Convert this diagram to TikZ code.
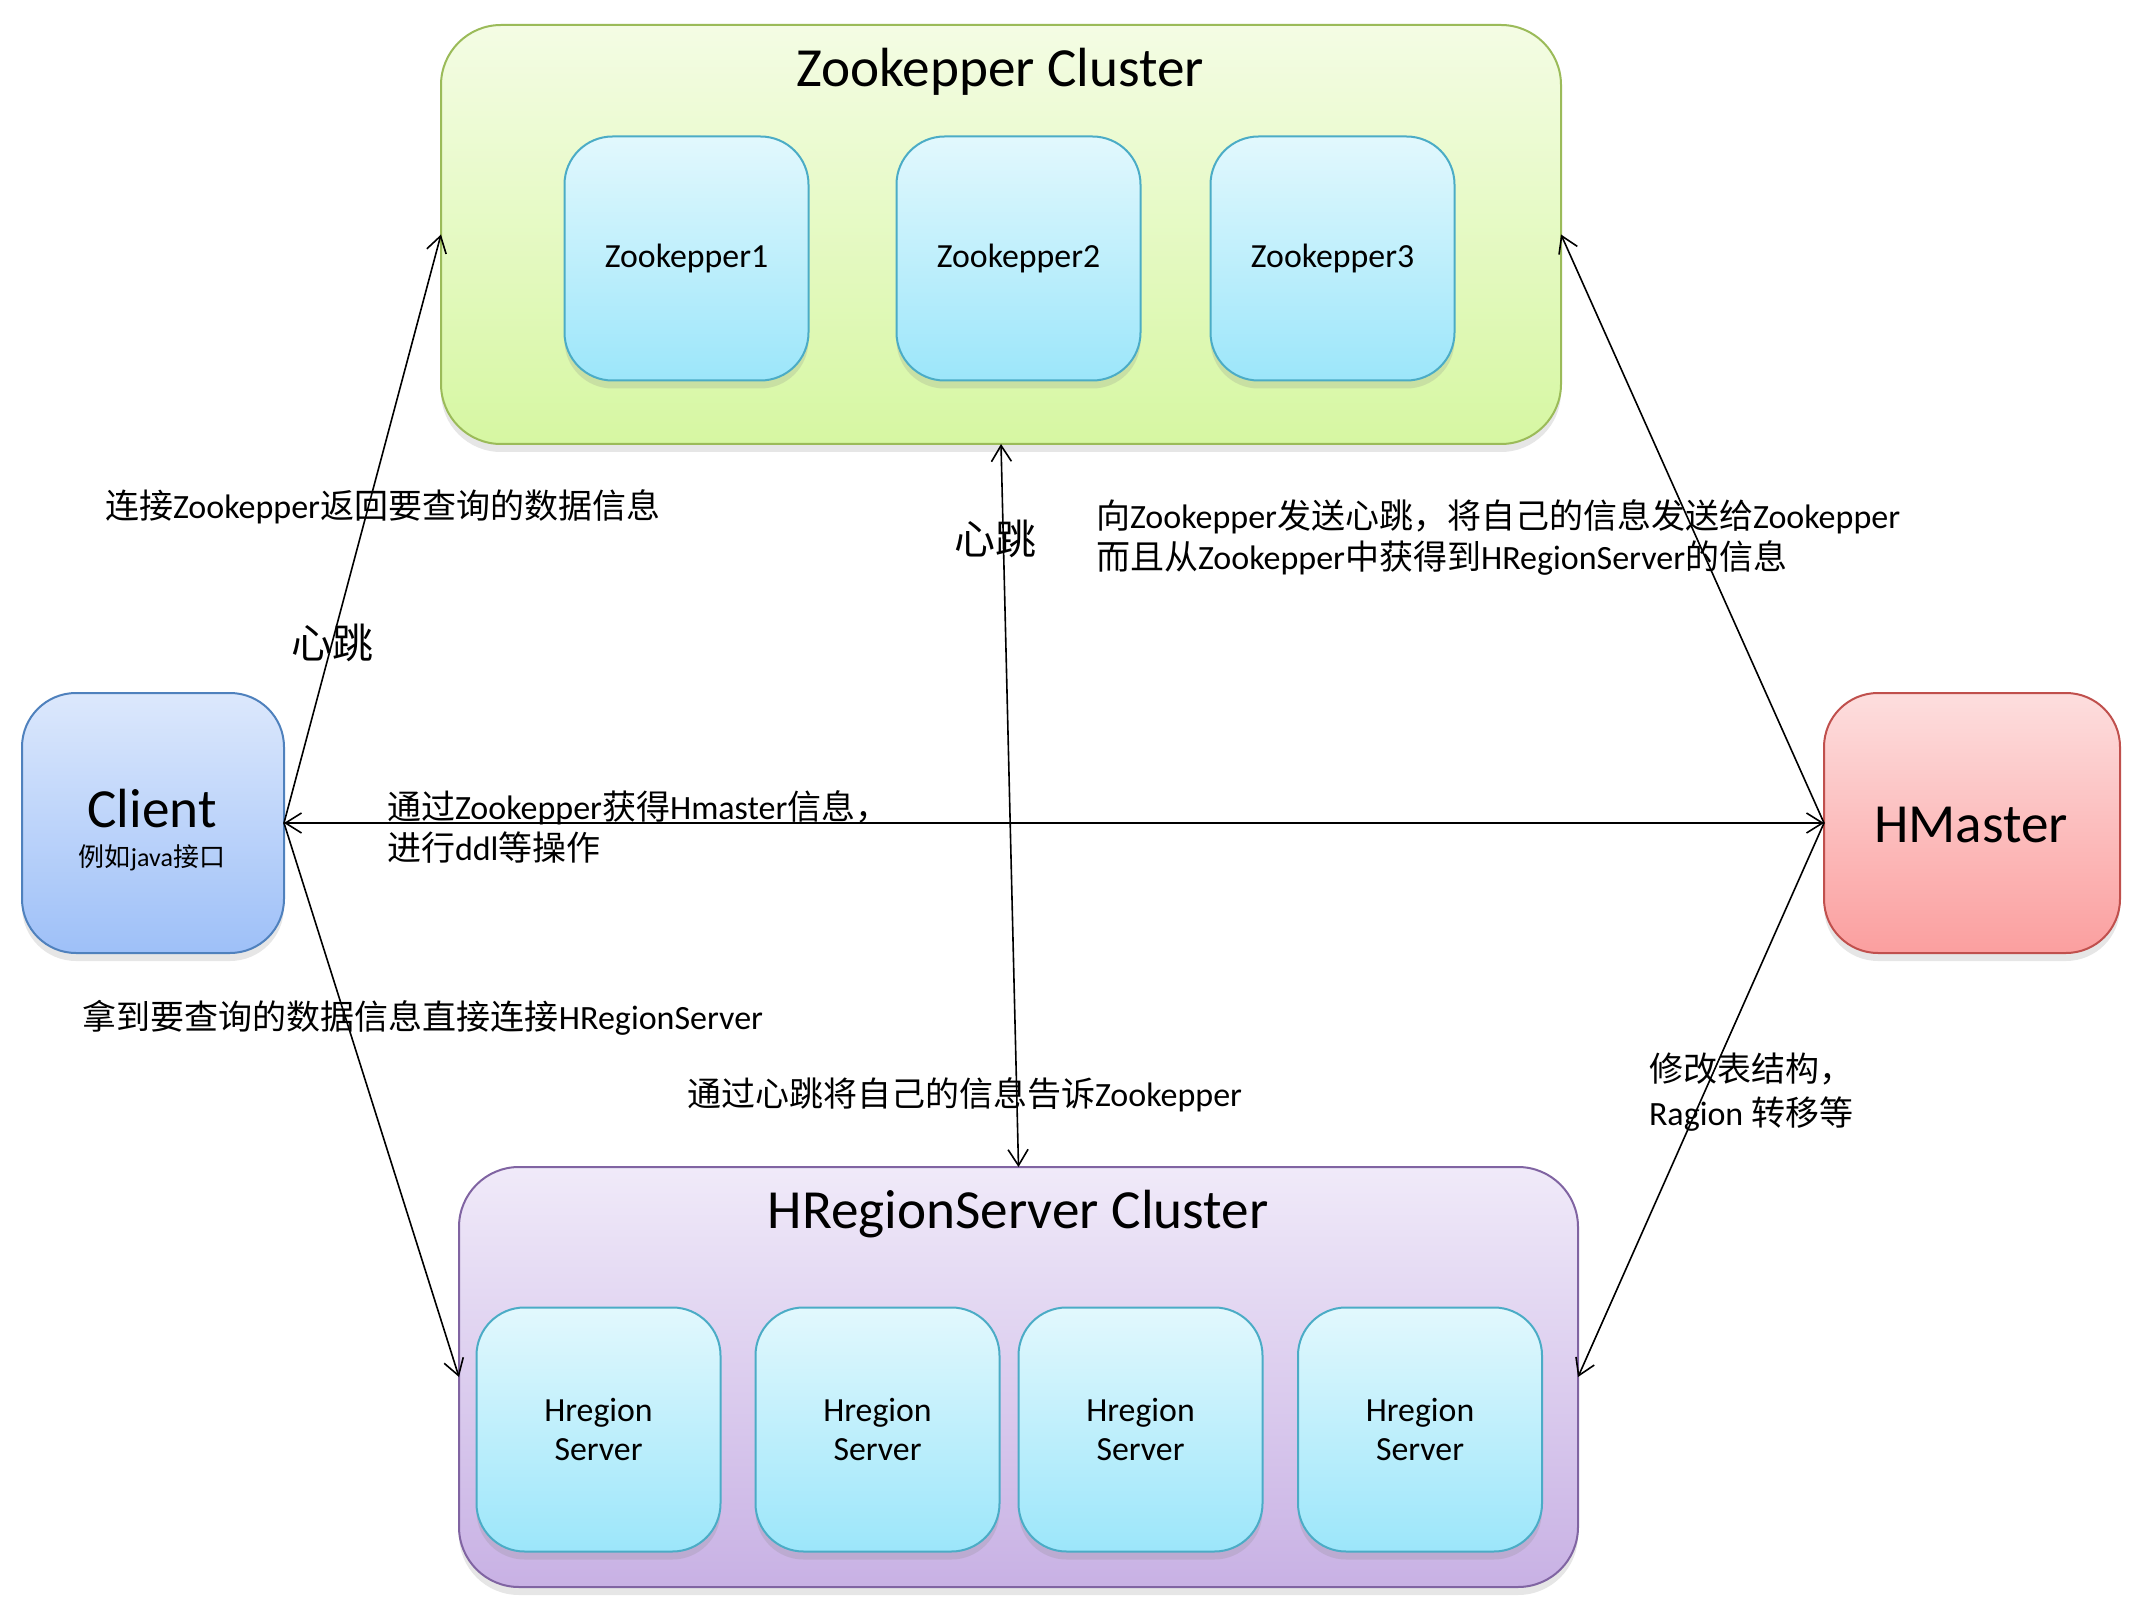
\documentclass[tikz,border=0pt]{standalone}
\usepackage{fontspec}
\setmainfont{Carlito}
\newfontfamily\cjk{Noto Sans CJK SC}
\newcommand\zh[1]{{\cjk #1}}
\usetikzlibrary{arrows.meta,shadows}
\definecolor{zkTop}{HTML}{F4FCE4}
\definecolor{zkBot}{HTML}{D6F7A2}
\definecolor{zkLine}{HTML}{9BBB59}
\definecolor{aqTop}{HTML}{E2F8FD}
\definecolor{aqBot}{HTML}{9CE6FA}
\definecolor{aqLine}{HTML}{4BACC6}
\definecolor{clTop}{HTML}{DCE8FC}
\definecolor{clBot}{HTML}{9EC0F8}
\definecolor{clLine}{HTML}{4F81BD}
\definecolor{hmTop}{HTML}{FDDEDE}
\definecolor{hmBot}{HTML}{FB9F9F}
\definecolor{hmLine}{HTML}{C0504D}
\definecolor{hrTop}{HTML}{F0EAF9}
\definecolor{hrBot}{HTML}{C8B1E4}
\definecolor{hrLine}{HTML}{8064A2}
\begin{document}
\begin{tikzpicture}[x=0.5pt,y=-0.5pt,
  every node/.style={inner sep=0pt, outer sep=0pt},
  boxbase/.style={draw, line width=1pt, shading=axis,
    drop shadow={shadow xshift=0pt, shadow yshift=-4pt, opacity=0.2}},
  cluster/.style={boxbase, rounded corners=30pt},
  inner/.style={boxbase, rounded corners=24pt, draw=aqLine, top color=aqTop, bottom color=aqBot,
    minimum width=122pt, minimum height=122pt, align=center,
    font=\fontsize{16.9}{19.5}\selectfont},
  side/.style={boxbase, rounded corners=27pt, minimum height=130pt},
  lbl/.style={font=\fontsize{17}{20.5}\selectfont, align=left, anchor=west},
  big/.style={font=\fontsize{20.5}{24}\selectfont},
  title/.style={font=\fontsize{27.6}{32}\selectfont},
  conn/.style={line width=0.8pt, -{Straight Barb[length=8pt,width=10pt]}},
  bconn/.style={line width=0.8pt, {Straight Barb[length=8pt,width=10pt]}-{Straight Barb[length=8pt,width=10pt]}}
]
\useasboundingbox (0,0) rectangle (2142,1604);

% Zookeeper cluster
\node[cluster, draw=zkLine, top color=zkTop, bottom color=zkBot,
  minimum width=560pt, minimum height=209.5pt] (zk) at (1001,234.5) {};
\node[title] (zkt) at (1000,72) {Zookepper Cluster};
\node[inner] (zk1) at (686.5,258.5) {Zookepper1};
\node[inner] (zk2) at (1018.5,258.5) {Zookepper2};
\node[inner] (zk3) at (1332.5,258.5) {Zookepper3};

% HRegionServer cluster
\node[cluster, draw=hrLine, top color=hrTop, bottom color=hrBot,
  minimum width=559.5pt, minimum height=210pt] (hr) at (1018.5,1377) {};
\node[title] (hrt) at (1018,1214) {HRegionServer Cluster};
\node[inner] (hr1) at (598.5,1429.5) {Hregion\\Server};
\node[inner] (hr2) at (877.5,1429.5) {Hregion\\Server};
\node[inner] (hr3) at (1140.5,1429.5) {Hregion\\Server};
\node[inner] (hr4) at (1420,1429.5) {Hregion\\Server};

% Client
\node[side, draw=clLine, top color=clTop, bottom color=clBot, minimum width=131pt] (cl) at (153,823) {};
\node[title] (clt) at (152,809) {Client};
\node[font=\fontsize{13}{15}\selectfont] (cls) at (152,858) {\zh{例如}java\zh{接口}};

% HMaster
\node[side, draw=hmLine, top color=hmTop, bottom color=hmBot, minimum width=148pt] (hm) at (1972,823) {};
\node[title] (hmt) at (1971,825) {HMaster};

% connectors
\draw[conn] (cl.east) -- (zk.west);
\draw[conn] (cl.east) -- (hr.west);
\draw[bconn] (cl.east) -- (hm.west);
\draw[conn] (hm.west) -- (zk.east);
\draw[conn] (hm.west) -- (hr.east);
\draw[bconn] (zk.south) -- (hr.north);

% labels
\node[lbl] (t1) at (105,507) {\zh{连接}Zookepper\zh{返回要查询的数据信息}};
\node[big] (hb1) at (332,643) {\zh{心跳}};
\node[big] (hb2) at (995,539) {\zh{心跳}};
\node[lbl] (t2) at (1096,537) {\zh{向}Zookepper\zh{发送心跳，将自己的信息发送给}Zookepper\\\zh{而且从}Zookepper\zh{中获得到}HRegionServer\zh{的信息}};
\node[lbl] (t3) at (387,827) {\zh{通过}Zookepper\zh{获得}Hmaster\zh{信息，}\\\zh{进行}ddl\zh{等操作}};
\node[lbl] (t4) at (83,1018) {\zh{拿到要查询的数据信息直接连接}HRegionServer};
\node[lbl] (t5) at (687,1095) {\zh{通过心跳将自己的信息告诉}Zookepper};
\node[lbl, font=\fontsize{17}{22}\selectfont] (t6) at (1649,1092) {\zh{修改表结构，}\\Ragion \zh{转移等}};
\end{tikzpicture}
\end{document}
